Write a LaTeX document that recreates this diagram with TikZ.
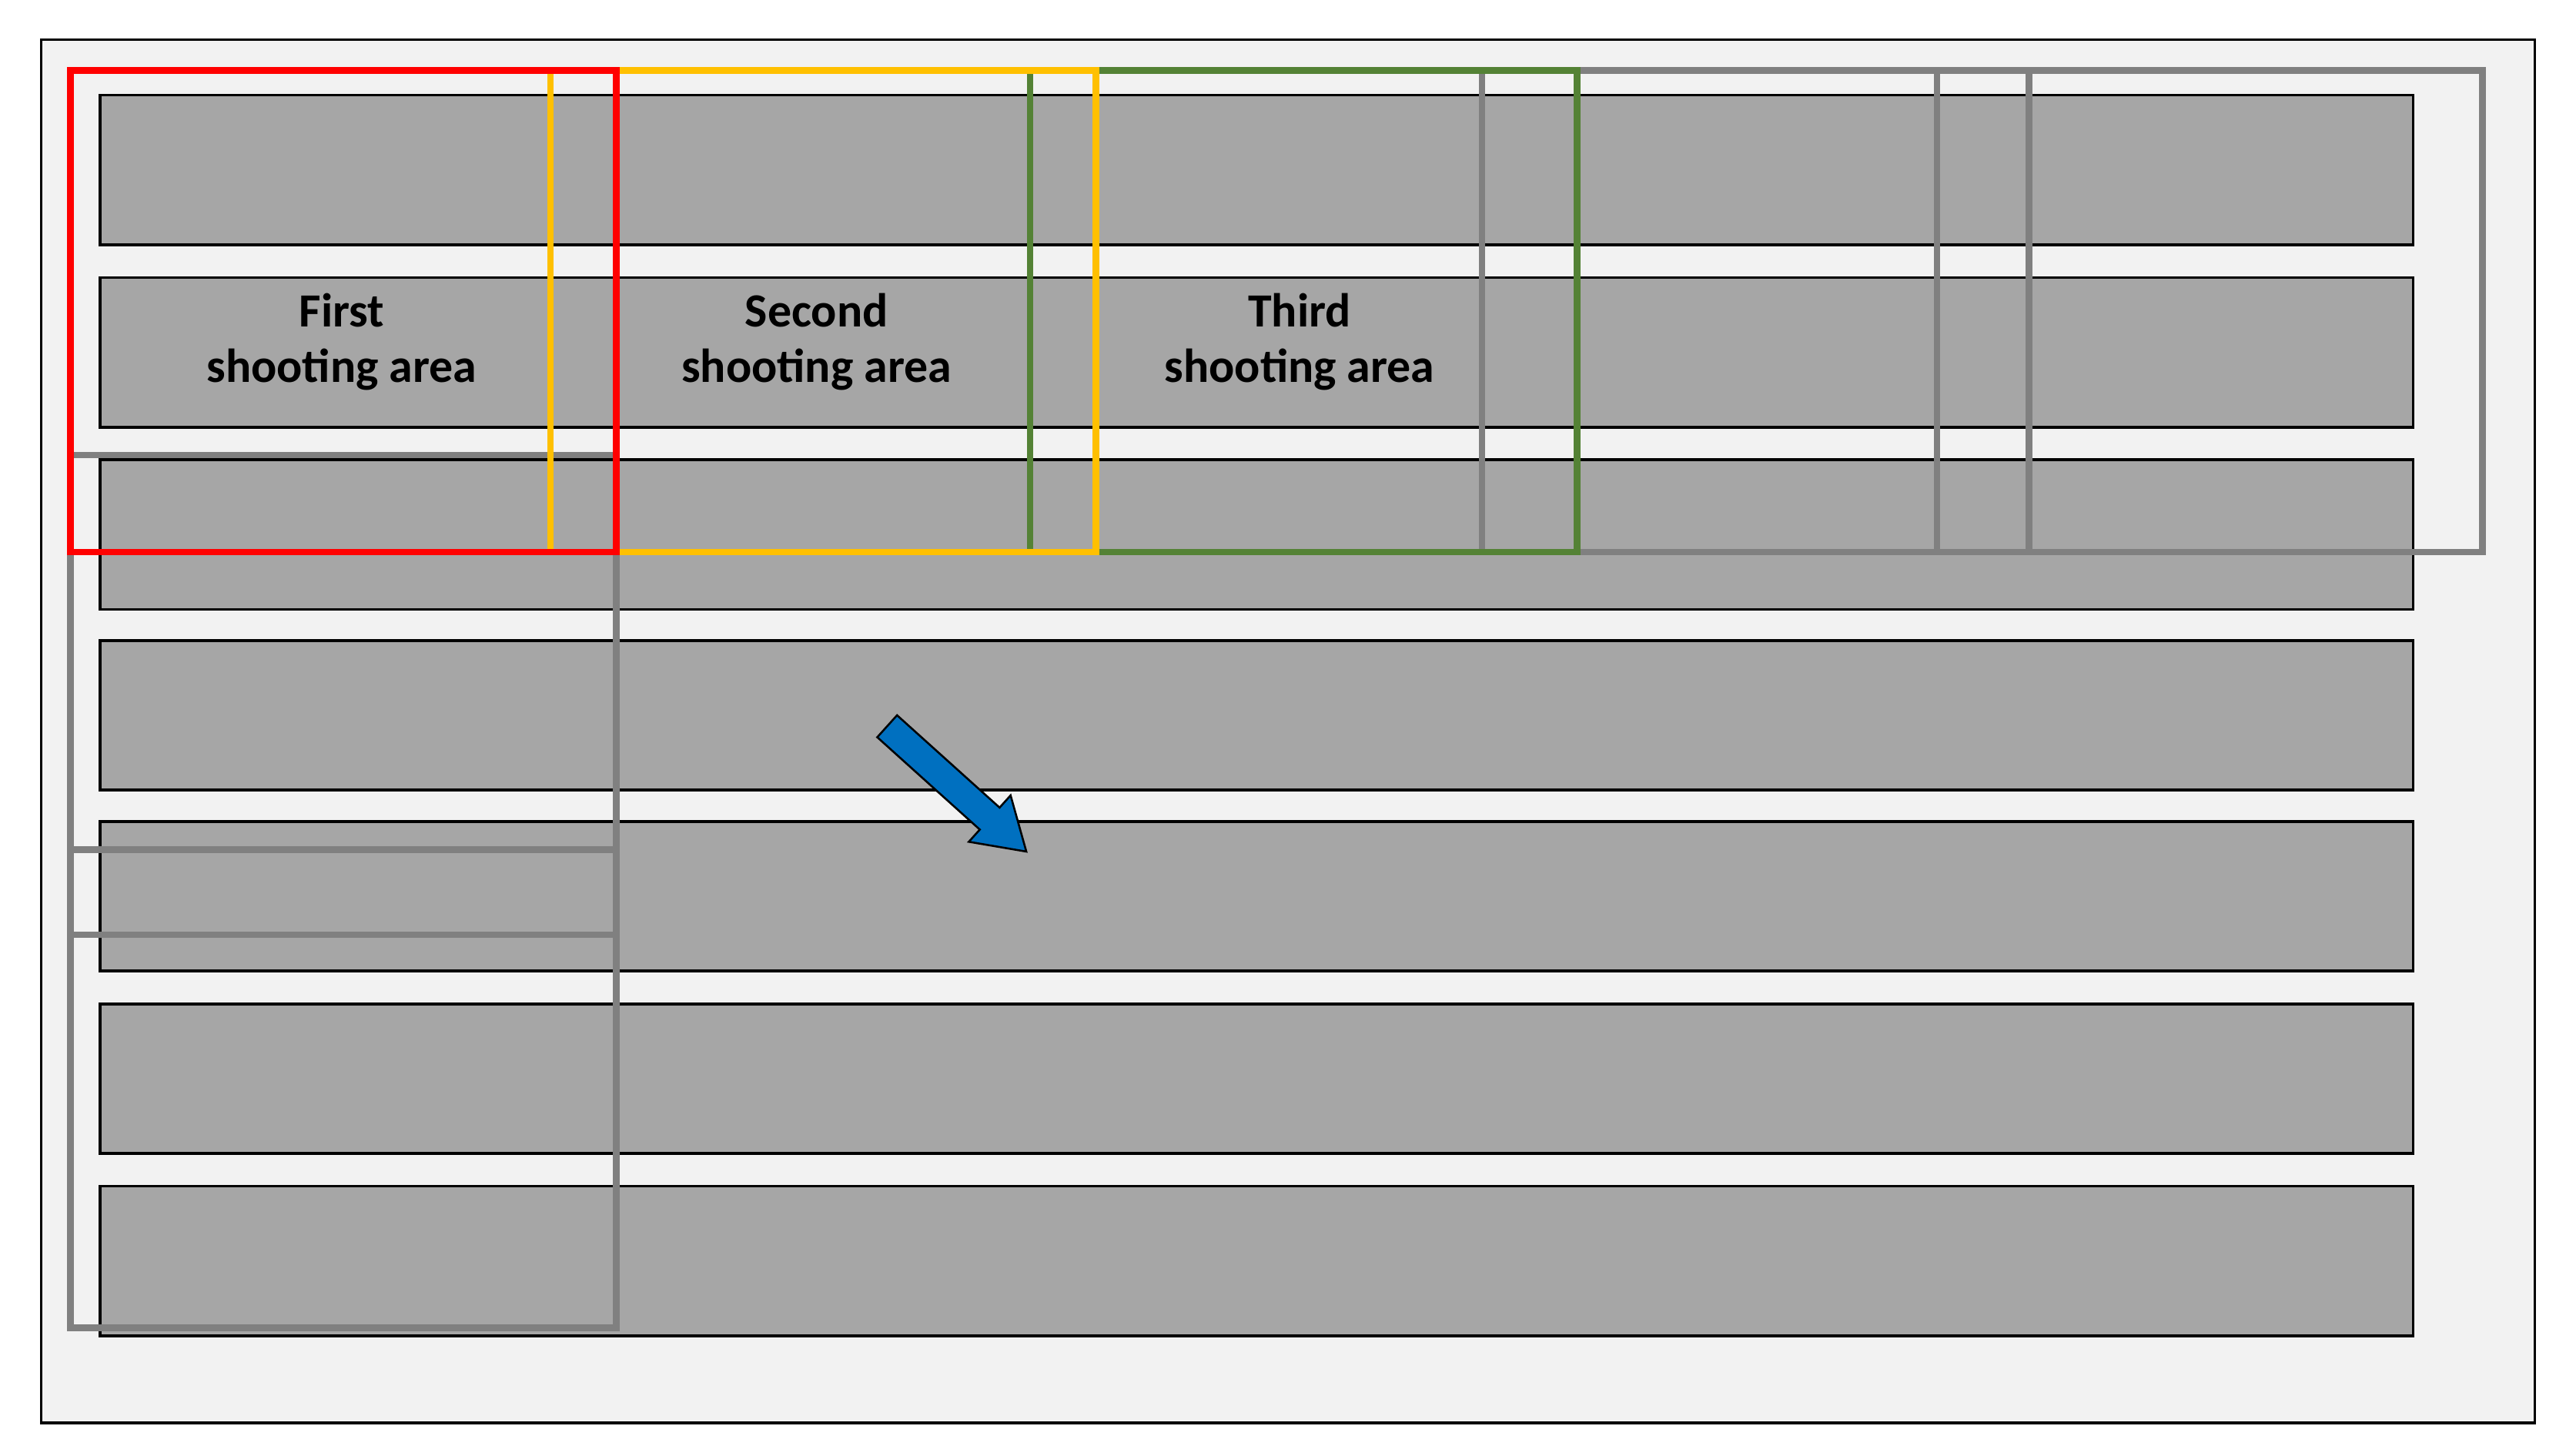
\documentclass[tikz,border=0pt]{standalone}
\usepackage{fontspec}
\setmainfont{Carlito}
\begin{document}
\begin{tikzpicture}[x=1pt,y=-1pt,
 bar/.style={draw=black,fill=black!35!white,line width=1.8pt},
 area/.style={line width=4pt},
 lbl/.style={font=\bfseries\fontsize{29}{34}\selectfont,align=center}]
\useasboundingbox (0,0) rectangle (1568,886);
\node[draw=black,fill=black!5,line width=1.5pt,minimum width=1518pt,minimum height=842pt,inner sep=0pt] (frame) at (784,445) {};
\foreach \y [count=\i] in {57,168,279,389,499,610,721}
  \node[bar,minimum width=1408pt,minimum height=91pt,inner sep=0pt,anchor=north west] (bar\i) at (60,\y) {};
% gray areas
\draw[area,draw=black!50] (1179,43) rectangle (1511,336);
\draw[area,draw=black!50] (902,43) rectangle (1235,336);
\draw[area,draw=black!50] (43,517) rectangle (375,808);
\draw[area,draw=black!50] (43,277) rectangle (375,569);
\draw[area,draw={rgb,255:red,84;green,130;blue,53}] (627,43) rectangle (960,336);
\draw[area,draw={rgb,255:red,255;green,192;blue,0}] (335,43) rectangle (667,336);
\draw[area,draw=red] (43,43) rectangle (375,336);
\node[lbl] (l1) at (208,208) {First\\shooting area};
\node[lbl] (l2) at (497,208) {Second\\shooting area};
\node[lbl] (l3) at (791,208) {Third\\shooting area};
\begin{scope}[shift={(540,442)},rotate=-42]
\draw[fill={rgb,255:red,0;green,112;blue,192},line width=1.2pt,line join=miter]
 (0,-9) -- (84,-9) -- (84,-19) -- (114,0) -- (84,19) -- (84,9) -- (0,9) -- cycle;
\end{scope}
\end{tikzpicture}
\end{document}
